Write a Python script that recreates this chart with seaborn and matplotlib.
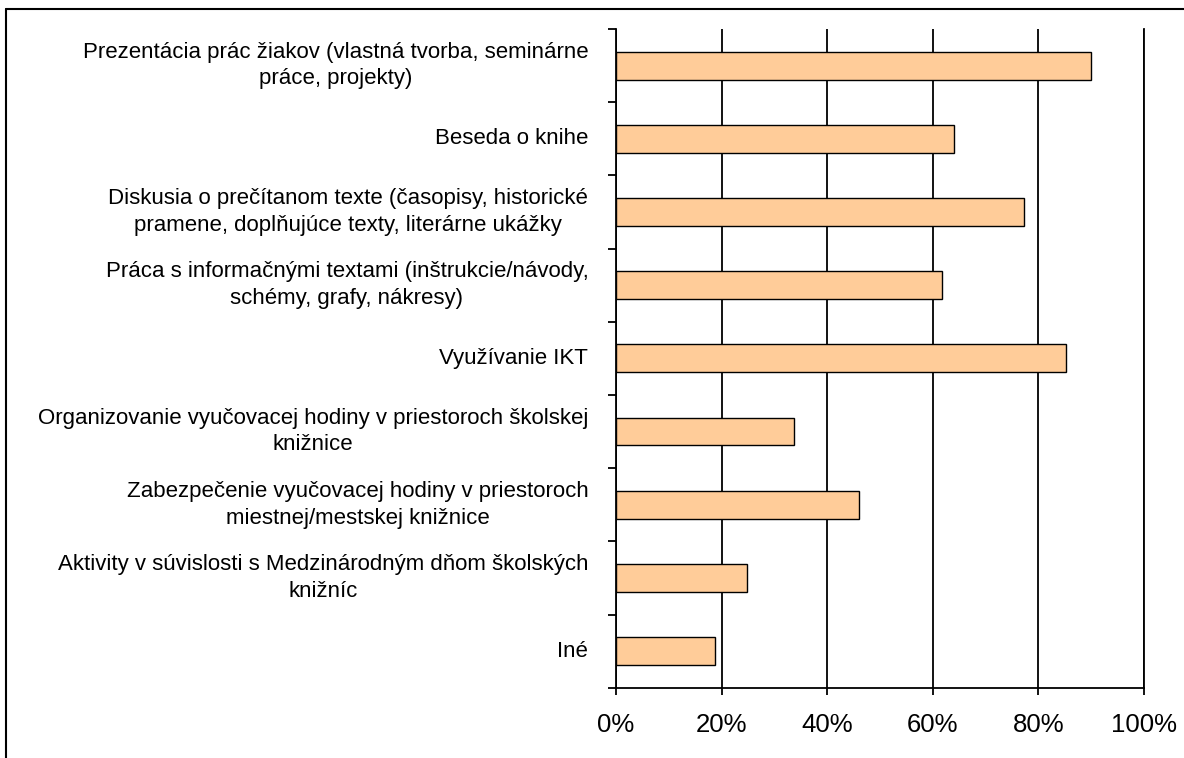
import numpy as np
import pandas as pd
import seaborn as sns
import matplotlib.pyplot as plt
from matplotlib.lines import Line2D
from matplotlib.ticker import FixedLocator, FuncFormatter

categories = [
    "Prezentácia prác žiakov (vlastná tvorba, seminárne\npráce, projekty)",
    "Beseda o knihe",
    "Diskusia o prečítanom texte (časopisy, historické\npramene, doplňujúce texty, literárne ukážky",
    "Práca s informačnými textami (inštrukcie/návody,\nschémy, grafy, nákresy)",
    "Využívanie IKT",
    "Organizovanie vyučovacej hodiny v priestoroch školskej\nknižnice",
    "Zabezpečenie vyučovacej hodiny v priestoroch\nmiestnej/mestskej knižnice",
    "Aktivity v súvislosti s Medzinárodným dňom školských\nknižníc",
    "Iné",
]
values = [89.9, 64.0, 77.3, 61.8, 85.2, 33.8, 46.1, 24.9, 18.7]
x_ticks = [0, 20, 40, 60, 80, 100]

df = pd.DataFrame({"kategoria": categories, "podiel": values})

sns.set_style("white")
plt.rcParams['font.family'] = ['Liberation Sans', 'DejaVu Sans']
plt.rcParams['text.color'] = 'black'
plt.rcParams['xtick.color'] = 'black'
plt.rcParams['ytick.color'] = 'black'

fig = plt.figure(figsize=(11.84, 7.58), dpi=100)
ax = fig.add_axes([0.5203, 0.0927, 0.4459, 0.869])

sns.barplot(data=df, x="podiel", y="kategoria", color="#FFCC99", saturation=1,
            edgecolor="black", linewidth=1.0, width=0.38, ax=ax)

ax.set_xlim(0, 100)
ax.set_ylim(len(categories) - 0.5, -0.5)
ax.set(xlabel="", ylabel="")

# mriežka
ax.set_axisbelow(True)
ax.xaxis.grid(True, color="black", linewidth=1.3)
ax.xaxis.set_major_locator(FixedLocator(x_ticks))
ax.xaxis.set_major_formatter(FuncFormatter(lambda v, p: f"{v:.0f}%"))

ax.spines["top"].set_visible(False)
for s in ["left", "bottom", "right"]:
    ax.spines[s].set_color("black")
    ax.spines[s].set_linewidth(1.3)

# značky medzi kategóriami
ax.yaxis.set_minor_locator(FixedLocator(np.arange(-0.5, len(categories), 1.0)))
ax.tick_params(axis="y", which="major", length=0, pad=20, labelsize=16, labelcolor="black")
ax.tick_params(axis="y", which="minor", left=True, length=6, width=1.3, color="black")
ax.tick_params(axis="x", which="major", bottom=True, length=5, width=1.3, color="black",
               pad=13, labelsize=18.5, labelcolor="black")
for lab in ax.get_yticklabels():
    lab.set_multialignment("center")
    lab.set_linespacing(1.35)
    lab.set_va("center")

# rámček okolo grafu (vidno len ľavú a hornú hranu)
fig.add_artist(Line2D([6 / 1184, 6 / 1184], [0, 1 - 9.3 / 758], transform=fig.transFigure,
                      color="black", linewidth=1.5))
fig.add_artist(Line2D([6 / 1184, 1], [1 - 9.3 / 758, 1 - 9.3 / 758], transform=fig.transFigure,
                      color="black", linewidth=1.5))

fig.savefig("out.png", dpi=100)
